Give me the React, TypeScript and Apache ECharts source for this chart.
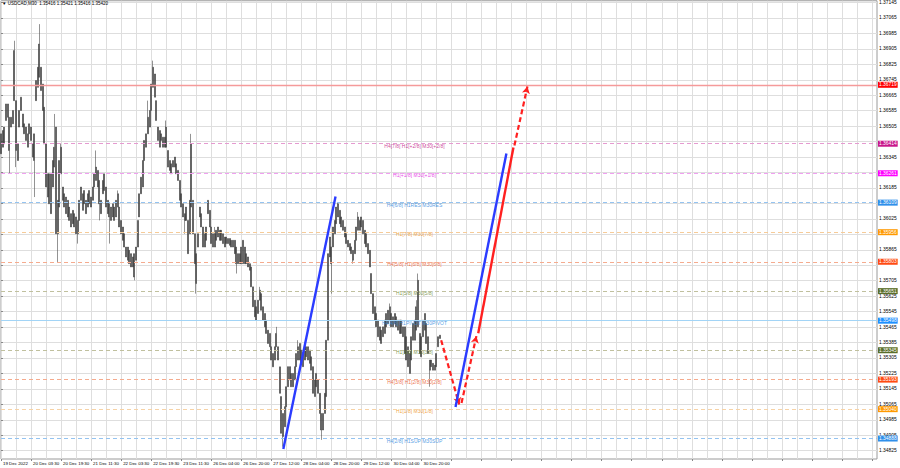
import React, { useEffect, useRef } from "react";
import * as echarts from "echarts";

// ---------- data ----------
const chartTitle = "▼ USDCAD,M30  1.35416 1.35421 1.35416 1.35420";

const timeLabels = [
  "19 Dec 2022", "20 Dec 03:30", "20 Dec 19:30", "21 Dec 11:30", "22 Dec 03:30",
  "22 Dec 19:30", "23 Dec 11:30", "26 Dec 04:00", "26 Dec 20:00", "27 Dec 12:00",
  "28 Dec 04:00", "28 Dec 20:00", "29 Dec 12:00", "30 Dec 04:00", "30 Dec 20:00",
];

// grid lines of the price scale
const priceTicks = [
  1.34825, 1.34905, 1.34985, 1.35065, 1.35145, 1.35225, 1.35305, 1.35385, 1.35465, 1.35545,
  1.35625, 1.35705, 1.35785, 1.35865, 1.35945, 1.36025, 1.36105, 1.36185, 1.36265, 1.36345,
  1.36425, 1.36505, 1.36585, 1.36665, 1.36745, 1.36825, 1.36905, 1.36985, 1.37065, 1.37145,
];
// price labels that are not hidden behind the coloured level boxes
const priceLabels = [
  1.34825, 1.34905, 1.34985, 1.35065, 1.35145, 1.35225, 1.35305, 1.35385, 1.35465, 1.35545,
  1.35625, 1.35705, 1.35865, 1.36025, 1.36185, 1.36345,
  1.36505, 1.36585, 1.36665, 1.36745, 1.36825, 1.36905, 1.36985, 1.37065, 1.37145,
];

// upper / lower edge of the dense part of each (sampled) price bar
const bodyHigh = [
  1.36465, 1.36482, 1.36500, 1.36620, 1.36620, 1.36551, 1.36551, 1.36586, 1.36896, 1.36637,
  1.36413, 1.36586, 1.36655, 1.36568, 1.36517, 1.36500, 1.36465, 1.36517, 1.36500, 1.36413,
  1.36465, 1.36741, 1.36810, 1.36930, 1.36810, 1.36723, 1.36603, 1.36413, 1.36258, 1.36258,
  1.36258, 1.36327, 1.36396, 1.36500, 1.36121, 1.36327, 1.36396, 1.36190, 1.36155, 1.36138,
  1.36121, 1.36086, 1.36052, 1.36069, 1.36052, 1.36035, 1.36017, 1.36121, 1.36190, 1.36155,
  1.36172, 1.36121, 1.36155, 1.36172, 1.36138, 1.36190, 1.36258, 1.36293, 1.36276, 1.36224,
  1.36121, 1.36224, 1.36258, 1.36190, 1.36121, 1.36103, 1.36086, 1.36103, 1.36086, 1.36121,
  1.36155, 1.36086, 1.36017, 1.35983, 1.35948, 1.35879, 1.35879, 1.35862, 1.35845, 1.35828,
  1.35845, 1.35879, 1.36017, 1.36155, 1.36241, 1.36327, 1.36431, 1.36465, 1.36551, 1.36586,
  1.36723, 1.36810, 1.36775, 1.36637, 1.36500, 1.36482, 1.36465, 1.36448, 1.36448, 1.36500,
  1.36379, 1.36327, 1.36310, 1.36327, 1.36345, 1.36310, 1.36276, 1.36224, 1.36155, 1.36103,
  1.36052, 1.36086, 1.36017, 1.36121, 1.36413, 1.36121, 1.35948, 1.35845, 1.35948, 1.36086,
  1.36052, 1.35983, 1.35948, 1.35983, 1.36121, 1.36069, 1.35983, 1.35948, 1.35948, 1.35966,
  1.35983, 1.35966, 1.35966, 1.35948, 1.35931, 1.35931, 1.35923, 1.35923, 1.35914, 1.35914,
  1.35914, 1.35879, 1.35845, 1.35845, 1.35879, 1.35914, 1.35879, 1.35845, 1.35828, 1.35793,
  1.35776, 1.35673, 1.35604, 1.35570, 1.35604, 1.35656, 1.35638, 1.35570, 1.35535, 1.35501,
  1.35449, 1.35432, 1.35363, 1.35328, 1.35363, 1.35432, 1.35363, 1.35259, 1.35105, 1.35018,
  1.35053, 1.35156, 1.35260, 1.35260, 1.35225, 1.35225, 1.35260, 1.35328, 1.35363, 1.35380,
  1.35346, 1.35328, 1.35363, 1.35363, 1.35363, 1.35346, 1.35311, 1.35260, 1.35191, 1.35225,
  1.35191, 1.35122, 1.35018, 1.35018, 1.35122, 1.35397, 1.35845, 1.35931, 1.35880, 1.35983,
  1.36017, 1.36086, 1.36103, 1.36069, 1.36035, 1.36017, 1.35983, 1.35948, 1.35914, 1.35897,
  1.35880, 1.35862, 1.35914, 1.35983, 1.36035, 1.36017, 1.36035, 1.36017, 1.35966, 1.35948,
  1.35897, 1.35862, 1.35742, 1.35638, 1.35570, 1.35535, 1.35501, 1.35466, 1.35449, 1.35466,
  1.35501, 1.35535, 1.35552, 1.35570, 1.35535, 1.35518, 1.35535, 1.35518, 1.35501, 1.35501,
  1.35501, 1.35466, 1.35466, 1.35415, 1.35363, 1.35328, 1.35415, 1.35483, 1.35501, 1.35570,
  1.35707, 1.35432, 1.35415, 1.35501, 1.35535, 1.35483, 1.35415, 1.35294, 1.35294, 1.35277,
  1.35268, 1.35328, 1.35415, 1.35423,
];

const bodyLow = [
  1.36362, 1.36396, 1.36413, 1.36534, 1.36551, 1.36379, 1.36500, 1.36517, 1.36637, 1.36379,
  1.36327, 1.36500, 1.36586, 1.36500, 1.36465, 1.36431, 1.36396, 1.36465, 1.36431, 1.36345,
  1.36327, 1.36637, 1.36706, 1.36758, 1.36689, 1.36586, 1.36413, 1.36190, 1.36138, 1.36103,
  1.36052, 1.36190, 1.36293, 1.35948, 1.35948, 1.36086, 1.36258, 1.36121, 1.36086, 1.36052,
  1.36035, 1.36017, 1.35983, 1.36000, 1.35983, 1.35948, 1.35948, 1.36017, 1.36121, 1.36069,
  1.36103, 1.36052, 1.36086, 1.36103, 1.36086, 1.36121, 1.36190, 1.36224, 1.36190, 1.36103,
  1.36052, 1.36155, 1.36172, 1.36086, 1.36052, 1.36035, 1.36017, 1.36035, 1.36017, 1.36035,
  1.36086, 1.35983, 1.35948, 1.35914, 1.35879, 1.35828, 1.35811, 1.35793, 1.35776, 1.35776,
  1.35724, 1.35811, 1.35879, 1.36035, 1.36155, 1.36190, 1.36327, 1.36396, 1.36465, 1.36500,
  1.36586, 1.36706, 1.36655, 1.36534, 1.36431, 1.36396, 1.36431, 1.36396, 1.36396, 1.36396,
  1.36293, 1.36276, 1.36258, 1.36293, 1.36293, 1.36258, 1.36224, 1.36121, 1.36086, 1.36035,
  1.36017, 1.36017, 1.35845, 1.35948, 1.36086, 1.35948, 1.35793, 1.35690, 1.35879, 1.36035,
  1.35983, 1.35879, 1.35879, 1.35914, 1.36052, 1.35983, 1.35897, 1.35879, 1.35879, 1.35914,
  1.35931, 1.35914, 1.35914, 1.35897, 1.35879, 1.35897, 1.35897, 1.35888, 1.35879, 1.35879,
  1.35845, 1.35793, 1.35793, 1.35793, 1.35793, 1.35793, 1.35793, 1.35793, 1.35776, 1.35759,
  1.35673, 1.35570, 1.35518, 1.35501, 1.35535, 1.35604, 1.35552, 1.35501, 1.35466, 1.35432,
  1.35380, 1.35363, 1.35294, 1.35259, 1.35294, 1.35363, 1.35294, 1.35122, 1.34915, 1.34898,
  1.34949, 1.35053, 1.35156, 1.35191, 1.35156, 1.35156, 1.35191, 1.35260, 1.35294, 1.35294,
  1.35277, 1.35260, 1.35294, 1.35311, 1.35294, 1.35277, 1.35242, 1.35122, 1.35105, 1.35156,
  1.35122, 1.35018, 1.34932, 1.34932, 1.35018, 1.35105, 1.35397, 1.35828, 1.35793, 1.35880,
  1.35948, 1.36000, 1.36035, 1.36000, 1.35983, 1.35966, 1.35931, 1.35897, 1.35880, 1.35862,
  1.35845, 1.35811, 1.35845, 1.35914, 1.35966, 1.35966, 1.35983, 1.35948, 1.35897, 1.35880,
  1.35845, 1.35776, 1.35638, 1.35535, 1.35501, 1.35466, 1.35415, 1.35397, 1.35380, 1.35415,
  1.35432, 1.35466, 1.35483, 1.35501, 1.35466, 1.35466, 1.35483, 1.35466, 1.35449, 1.35432,
  1.35432, 1.35415, 1.35328, 1.35294, 1.35260, 1.35225, 1.35294, 1.35397, 1.35397, 1.35449,
  1.35466, 1.35328, 1.35311, 1.35415, 1.35449, 1.35380, 1.35328, 1.35242, 1.35260, 1.35242,
  1.35242, 1.35260, 1.35363, 1.35406,
];

// long wicks: [bar index, price]
const wickHigh = [
  [8, 1.36947], [23, 1.37033], [32, 1.36568], [36, 1.36413], [57, 1.36379], [70, 1.36172],
  [88, 1.36637], [91, 1.36844], [99, 1.36534], [114, 1.36465], [128, 1.35983], [155, 1.35673],
  [165, 1.35466], [178, 1.35397], [202, 1.36112], [214, 1.36060], [233, 1.35587], [249, 1.35604],
  [250, 1.35742],
];
const wickLow = [
  [5, 1.36258], [9, 1.36293], [20, 1.36138], [34, 1.35802], [46, 1.35897], [59, 1.36017],
  [65, 1.35897], [80, 1.35707], [110, 1.35948], [117, 1.35638], [141, 1.35742], [169, 1.34846],
  [192, 1.34881], [198, 1.35638], [211, 1.35793], [257, 1.35156],
];

const lastPrice = 1.3542;

// Murrey levels
const levelPrices = [
  1.36719, 1.36414, 1.36261, 1.36109, 1.35956, 1.35803, 1.35651, 1.35498, 1.35345, 1.35193, 1.3504, 1.34888,
];
const levelNames = [
  "", "H4[7/8] H1[+2/8] M30[+2/8]", "H1[+1/8] M30[+1/8]", "H4[6/8] H1RES M30RES", "H1[7/8] M30[7/8]",
  "H4[5/8] H1[6/8] M30[6/8]", "H1[5/8] M30[5/8]", "H4[4/8] H1PIVOT M30PIVOT", "H1[3/8] M30[3/8]",
  "H4[3/8] H1[2/8] M30[2/8]", "H1[1/8] M30[1/8]", "H4[2/8] H1SUP M30SUP",
];

// projected waves: [bar slot, price]
const blueWave1 = [[169.2, 1.34834], [200.5, 1.36141]];
const blueWave2 = [[272.4, 1.35051], [302.9, 1.36363]];
const redDrop = [[263.8, 1.35397], [274.6, 1.35064]];
const redBounce = [[276.0, 1.35072], [284.9, 1.35418]];
const redRise = [[286.0, 1.35433], [307.1, 1.36394]];
const redTarget = [[307.7, 1.36405], [315.5, 1.3671]];

// ---------- styles / layout ----------
const SLOTS = 526;
const LABEL_SLOT = 247.8;
const FONT = "'Liberation Sans', Arial, sans-serif";
const GRID = "#dedede";
const levelStyles = [
  { line: "#f59a9a", type: "solid", box: "#ff0000", text: "#ff0000", width: 1.3 },
  { line: "#e59ad0", type: [4, 3], box: "#c8168a", text: "#c0107f", width: 1 },
  { line: "#f0a0f0", type: [4, 3], box: "#ff00ff", text: "#e010e0", width: 1 },
  { line: "#94c3f0", type: [4, 3], box: "#2f8fea", text: "#2c85dc", width: 1 },
  { line: "#f6cb98", type: [4, 3], box: "#ff9900", text: "#ec8c10", width: 1 },
  { line: "#f5ab8e", type: [4, 3], box: "#ff4a12", text: "#ea501c", width: 1 },
  { line: "#c0c09e", type: [4, 3], box: "#5a6e2a", text: "#5f8020", width: 1 },
  { line: "#a2d4f6", type: "solid", box: "#1e90ff", text: "#2c85dc", width: 1 },
  { line: "#c0c09e", type: [4, 3], box: "#5a6e2a", text: "#5f8020", width: 1 },
  { line: "#f5ab8e", type: [4, 3], box: "#ff4a12", text: "#ea501c", width: 1 },
  { line: "#f6d2a6", type: [4, 3], box: "#ff9900", text: "#ec8c10", width: 1 },
  { line: "#94c3f0", type: [4, 3], box: "#2f8fea", text: "#2c85dc", width: 1 },
];

export default function App() {
  const ref = useRef<HTMLDivElement>(null);

  useEffect(() => {
    if (!ref.current) return;
    const chart = echarts.init(ref.current, undefined, { renderer: "svg" });

    const categories = Array.from({ length: SLOTS }, (_, i) => String(i));
    const hiMap = new Map(wickHigh.map((w) => [w[0], w[1]]));
    const loMap = new Map(wickLow.map((w) => [w[0], w[1]]));
    const candles = bodyHigh.map((h, i) => {
      const l = bodyLow[i];
      return [h, l, loMap.has(i) ? loMap.get(i) : l, hiMap.has(i) ? hiMap.get(i) : h];
    });

    const boxLabel = (bg: string, text: string) => ({
      show: true,
      position: "end",
      distance: 1,
      formatter: text,
      backgroundColor: bg,
      color: "#fff",
      fontSize: 4.9,
      fontFamily: FONT,
      padding: [1, 1, 0, 1],
    });

    const levelLines: any[] = levelPrices.map((p, i) => ({
      yAxis: p,
      lineStyle: { color: levelStyles[i].line, type: levelStyles[i].type, width: levelStyles[i].width },
      label: boxLabel(levelStyles[i].box, p.toFixed(5)),
    }));
    levelLines.push({
      yAxis: lastPrice,
      lineStyle: { opacity: 0 },
      label: boxLabel("#000000", lastPrice.toFixed(5)),
    });

    const levelTexts = levelNames
      .map((n, i) => ({ n, i }))
      .filter((d) => d.n)
      .map((d) => ({
        value: [LABEL_SLOT, levelPrices[d.i]],
        label: { formatter: d.n, color: levelStyles[d.i].text },
      }));

    const dashedArrow = (pts: number[][]) => [
      { coord: pts[0], symbol: "none" },
      { coord: pts[1], symbol: "arrow" },
    ];

    const option: any = {
      animation: false,
      backgroundColor: "#ffffff",
      title: {
        text: chartTitle,
        left: 2,
        top: 1,
        padding: 0,
        textStyle: { fontSize: 4.5, fontWeight: "normal", color: "#000", fontFamily: FONT },
      },
      grid: {
        left: 0,
        top: 0,
        right: 23,
        bottom: 9,
        show: true,
        borderColor: "#9a9a9a",
        borderWidth: 1,
        backgroundColor: "transparent",
      },
      xAxis: [
        {
          type: "category",
          data: categories,
          boundaryGap: false,
          axisLine: { show: false },
          axisTick: { show: true, interval: 17, length: 2, lineStyle: { color: "#888" } },
          axisLabel: {
            interval: 17,
            align: "left",
            margin: 2,
            fontSize: 4.4,
            color: "#000",
            fontFamily: FONT,
            padding: [0, 0, 0, 2],
            formatter: (_v: string, idx: number) => timeLabels[Math.round(idx / 18)] || "",
          },
          splitLine: { show: true, interval: 8, lineStyle: { color: GRID, width: 1 } },
        },
        { type: "value", min: 0, max: SLOTS - 1, show: false },
      ],
      yAxis: {
        type: "value",
        position: "right",
        min: 1.34782,
        max: 1.37154,
        axisLine: { show: false },
        axisTick: { show: true, length: 2, customValues: priceTicks, lineStyle: { color: "#888" } },
        axisLabel: {
          customValues: priceLabels,
          margin: 2,
          fontSize: 4.9,
          color: "#000",
          fontFamily: FONT,
          formatter: (v: number) => v.toFixed(5),
        },
        splitLine: { show: true, lineStyle: { color: GRID, width: 1 } },
      },
      series: [
        {
          type: "candlestick",
          data: candles,
          barWidth: 1.5,
          itemStyle: {
            color: "#262626",
            color0: "#262626",
            borderColor: "#4a4a4a",
            borderColor0: "#4a4a4a",
            borderWidth: 0.6,
          },
          markLine: {
            silent: true,
            symbol: ["none", "none"],
            precision: 5,
            data: levelLines,
          },
          z: 3,
        },
        {
          type: "scatter",
          xAxisIndex: 1,
          data: levelTexts,
          symbolSize: 1,
          itemStyle: { color: "rgba(0,0,0,0)" },
          label: { show: true, position: "inside", offset: [0, 2], fontSize: 5, fontFamily: FONT },
          z: 4,
        },
        {
          type: "line",
          xAxisIndex: 1,
          data: blueWave1,
          showSymbol: false,
          symbol: "none",
          lineStyle: { color: "#2b3cff", width: 2.4 },
          z: 5,
        },
        {
          type: "line",
          xAxisIndex: 1,
          data: blueWave2,
          showSymbol: false,
          symbol: "none",
          lineStyle: { color: "#2b3cff", width: 2.4 },
          z: 5,
        },
        {
          type: "line",
          xAxisIndex: 1,
          data: redRise,
          showSymbol: false,
          symbol: "none",
          lineStyle: { color: "#ff2020", width: 2.4 },
          z: 5,
          markLine: {
            silent: true,
            symbolSize: [6, 7],
            label: { show: false },
            lineStyle: { color: "#ff2020", width: 2.2, type: [5, 3] },
            data: [dashedArrow(redDrop), dashedArrow(redBounce), dashedArrow(redTarget)],
          },
        },
      ],
    };

    chart.setOption(option);
    return () => chart.dispose();
  }, []);

  return (
    <div
      ref={ref}
      style={{ position: "fixed", left: 0, top: 0, width: 900, height: 468 }}
    />
  );
}
